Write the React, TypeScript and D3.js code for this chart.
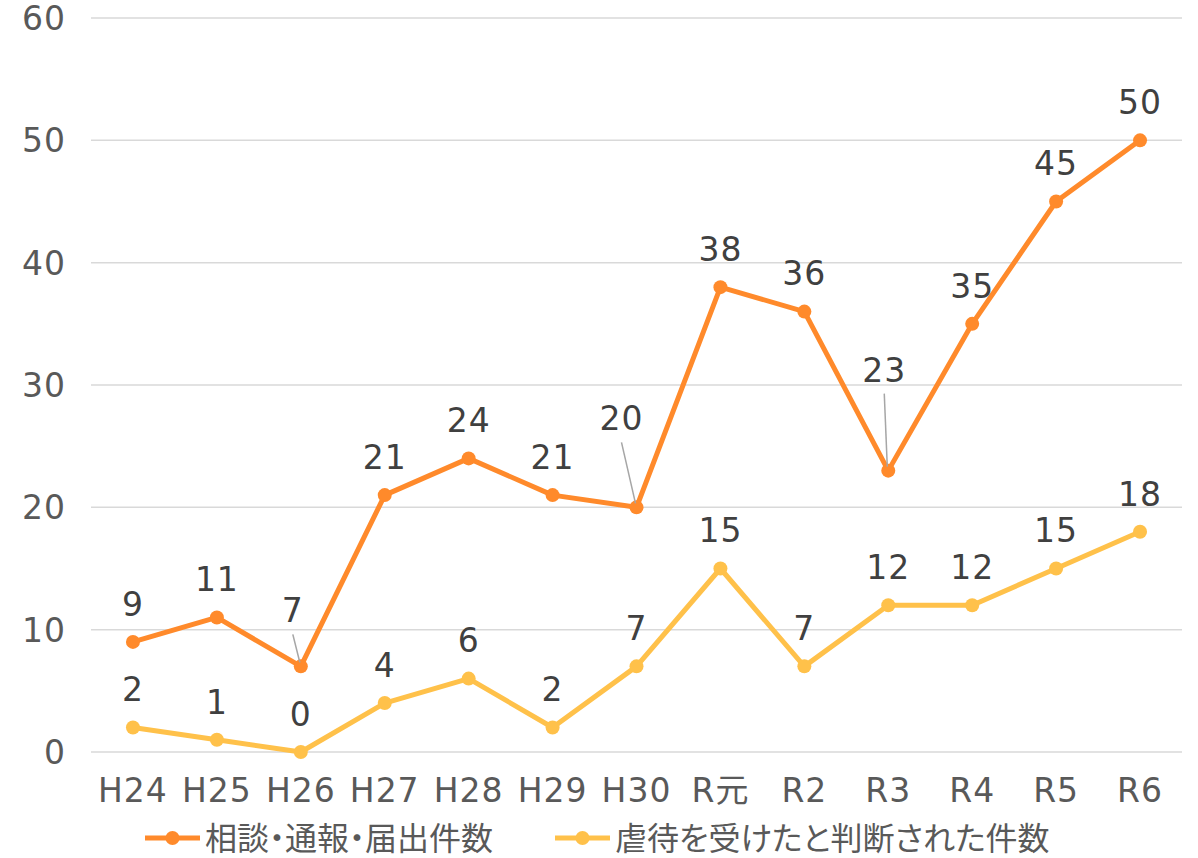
import React from 'react';
import * as d3 from 'd3';

const categories = ['H24', 'H25', 'H26', 'H27', 'H28', 'H29', 'H30', 'R元', 'R2', 'R3', 'R4', 'R5', 'R6'];
const consultations = [9, 11, 7, 21, 24, 21, 20, 38, 36, 23, 35, 45, 50];
const confirmed = [2, 1, 0, 4, 6, 2, 7, 15, 7, 12, 12, 15, 18];
const yTicks = [0, 10, 20, 30, 40, 50, 60];
const seriesNames = ['相談・通報・届出件数', '虐待を受けたと判断された件数'];

const ORANGE = '#FF8A2B';
const YELLOW = '#FFC14A';
const NUM_FONT = '"DejaVu Sans", "Noto Sans CJK JP", sans-serif';
const JP_FONT = '"Noto Sans CJK JP", "Noto Sans", sans-serif';

// label placement tweaks (dx, dy from point) where the chart pulled labels away
const orangeLabelShift: Record<number, [number, number]> = {
  2: [-8, -56],
  6: [-15, -89],
  9: [-4, -101],
};

function App() {
  const width = 1198;
  const height = 858;
  const margin = { top: 18, right: 16, bottom: 106, left: 91 };

  const x = d3.scaleBand()
    .domain(categories)
    .range([margin.left, width - margin.right]);

  const y = d3.scaleLinear()
    .domain([0, 60])
    .range([height - margin.bottom, margin.top]);

  const cx = (i: number) => (x(categories[i]) as number) + x.bandwidth() / 2;

  const line = d3.line<number>()
    .x((_, i) => cx(i))
    .y(d => y(d));

  const series = [
    { values: consultations, color: ORANGE, shifts: orangeLabelShift },
    { values: confirmed, color: YELLOW, shifts: {} as Record<number, [number, number]> },
  ];

  return (
    <svg width={width} height={height} style={{ position: 'absolute', left: 0, top: 0 }} fontFamily={NUM_FONT}>
      <rect width={width} height={height} fill="#fff" />
      {yTicks.map(t => (
        <g key={t}>
          <line x1={margin.left} x2={width - margin.right} y1={y(t)} y2={y(t)} stroke="#d9d9d9" strokeWidth={1.5} />
          <text x={66} y={y(t)} dy="0.36em" textAnchor="end" fontSize={33} letterSpacing={1} fill="#595959">{t}</text>
        </g>
      ))}
      {categories.map((c, i) => (
        <text key={c} x={cx(i)} y={790} dy="0.36em" textAnchor="middle" fontSize={33} letterSpacing={1} fill="#595959">{c}</text>
      ))}
      {series.map((s, si) => (
        <g key={si}>
          <path d={line(s.values) || ''} fill="none" stroke={s.color} strokeWidth={5} strokeLinejoin="round" />
          {s.values.map((v, i) => (
            <circle key={i} cx={cx(i)} cy={y(v)} r={7} fill={s.color} />
          ))}
          {s.values.map((v, i) => {
            const shift = s.shifts[i];
            const dx = shift ? shift[0] : 0;
            const dy = shift ? shift[1] : -38;
            return (
              <g key={'l' + i}>
                {shift && (
                  <line x1={cx(i) + dx} y1={y(v) + dy + 24} x2={cx(i) - 1} y2={y(v) - 4} stroke="#a6a6a6" strokeWidth={1.5} />
                )}
                <text x={cx(i) + dx} y={y(v) + dy} dy="0.36em" textAnchor="middle" fontSize={33} letterSpacing={1} fill="#404040">{v}</text>
              </g>
            );
          })}
        </g>
      ))}
      {seriesNames.map((name, i) => {
        const lx = i === 0 ? 145 : 555;
        const color = i === 0 ? ORANGE : YELLOW;
        return (
          <g key={name} transform={`translate(${lx},838)`}>
            <line x1={0} x2={55} y1={0} y2={0} stroke={color} strokeWidth={5} />
            <circle cx={27.5} cy={0} r={7} fill={color} />
            <text x={60} y={0} dy="0.36em" fontFamily={JP_FONT} fontSize={32} style={{ fontFeatureSettings: '"palt"' }} fill="#595959">{name}</text>
          </g>
        );
      })}
    </svg>
  );
}

export default App;
